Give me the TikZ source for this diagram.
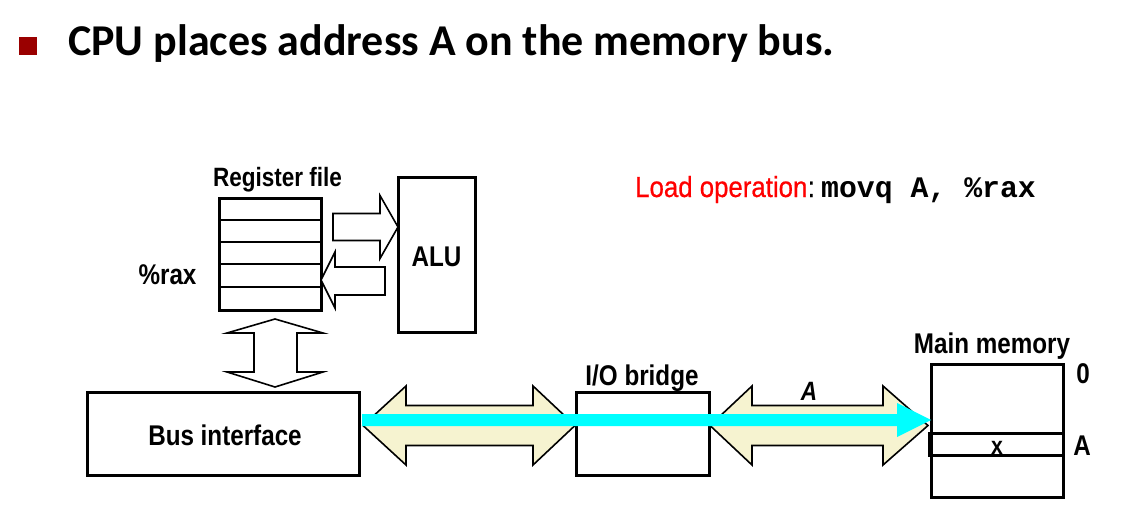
\documentclass[tikz,border=0pt]{standalone}
\usepackage{fontspec}
\setmainfont{Liberation Sans}
\newfontfamily\narrowfont[FakeStretch=0.85]{Liberation Sans}
\newfontfamily\loadfont[FakeStretch=0.89,FakeBold=0.6]{Liberation Sans}
\newfontfamily\titlefont{Carlito}
\newfontfamily\codefont{Liberation Mono}
\definecolor{bulletred}{RGB}{154,0,0}
\definecolor{cream}{RGB}{246,243,208}
\definecolor{cyanbus}{RGB}{0,255,255}
\tikzset{
  lbl/.style={font=\narrowfont\fontsize{28.5}{30}\selectfont\bfseries, anchor=base, inner sep=0pt},
  boxnode/.style={draw=black, line width=3pt, fill=white, inner sep=0pt},
  blockarrow/.style={draw=black, line width=1.6pt, line join=miter, fill=white},
  busarrow/.style={draw=black, line width=1.6pt, line join=miter, fill=cream},
}
\begin{document}
\begin{tikzpicture}[x=1pt,y=-1pt]
\useasboundingbox (0,0) rectangle (1123,516);
% title
\fill[bulletred] (19,37) rectangle (37,55);
\node[anchor=base west, inner sep=0pt, font=\titlefont\fontsize{44}{48}\selectfont\bfseries] (title) at (68,56) {CPU places address A on the memory bus.};

% load operation
\node[anchor=base west, inner sep=0pt, font=\loadfont\fontsize{29}{31}\selectfont, text=red] (loadop) at (635,197) {Load operation};
\node[anchor=base west, inner sep=0pt, font=\loadfont\fontsize{29}{31}\selectfont] (colon) at (loadop.base east) {:};
\node[anchor=base west, inner sep=0pt, font=\codefont\fontsize{29.8}{32}\selectfont\bfseries] (code) at (821,197) {movq A, \%rax};

% register file
\node[boxnode, minimum width=102pt, minimum height=112pt] (regfile) at (270,254) {};
\foreach \yy in {220,242,264,287} \draw[line width=2.5pt] (219,\yy) -- (321,\yy);
\node[lbl, font=\narrowfont\fontsize{26.5}{28}\selectfont\bfseries] (reglbl) at (277.5,186) {Register file};
\node[lbl] (raxlbl) at (167.5,284) {\%rax};

% ALU
\node[boxnode, minimum width=77pt, minimum height=155pt] (alu) at (436.5,254.5) {};
\node[lbl] at (436.5,266) {ALU};

% arrows regfile <-> ALU
\draw[blockarrow] (333,213.5) -- (380,213.5) -- (380,195.5) -- (398,227) -- (380,258.5) -- (380,240.5) -- (333,240.5) -- cycle;
\draw[blockarrow] (385,267) -- (335,267) -- (335,252) -- (321,280) -- (335,308) -- (335,295) -- (385,295) -- cycle;

% vertical double arrow regfile <-> bus interface
\draw[blockarrow] (275,319) -- (323,333) -- (297,333) -- (297,372) -- (323,372) -- (275,387) -- (227,372) -- (254,372) -- (254,333) -- (227,333) -- cycle;

% bus interface
\node[boxnode, minimum width=272pt, minimum height=83pt] (bus) at (223,434) {};
\node[lbl] at (225,445.5) {Bus interface};

% I/O bridge
\node[boxnode, minimum width=133pt, minimum height=83pt] (bridge) at (642.5,433.5) {};
\node[lbl] at (642,385) {I/O bridge};

% main memory
\node[boxnode, minimum width=132pt, minimum height=133pt] (mem) at (997,430.5) {};
\draw[line width=3pt] (929,433) rectangle (1063,455);
\node[lbl] at (992,353) {Main memory};
\node[lbl] at (1083,383) {0};
\node[lbl] at (1082,455) {A};
\node[lbl, font=\narrowfont\fontsize{25}{27}\selectfont\bfseries] at (997,454) {x};

% bus arrows
\draw[busarrow] (363,425.5) -- (406,386) -- (406,405.5) -- (533,405.5) -- (533,386) -- (575,425.5) -- (533,465) -- (533,445.5) -- (406,445.5) -- (406,465) -- cycle;
\draw[busarrow] (710,425.5) -- (752,386) -- (752,405.5) -- (883,405.5) -- (883,386) -- (928,425.5) -- (883,465) -- (883,445.5) -- (752,445.5) -- (752,465) -- cycle;
\node[lbl, font=\narrowfont\fontsize{26.5}{28}\selectfont\bfseries\itshape] at (809,400.5) {A};

% cyan transfer arrow
\fill[cyanbus] (362,414) -- (897,414) -- (897,403) -- (931,420) -- (897,437) -- (897,426) -- (362,426) -- cycle;
\end{tikzpicture}
\end{document}
